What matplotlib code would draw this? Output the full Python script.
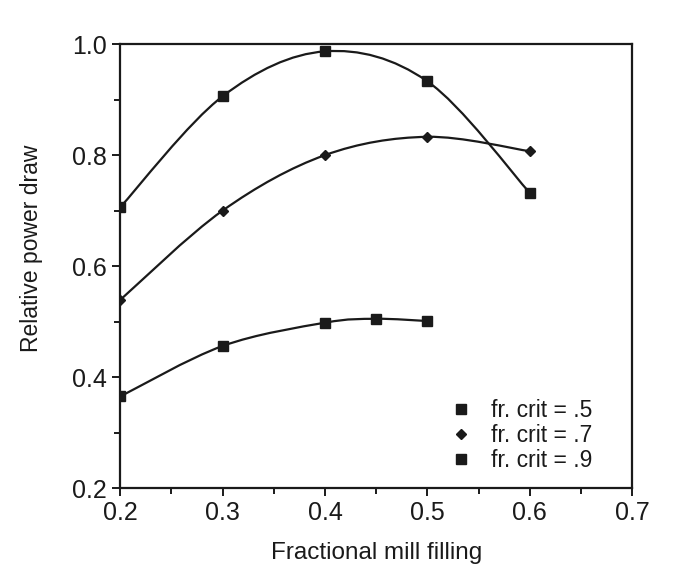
import matplotlib

matplotlib.use("Agg")
import matplotlib.pyplot as plt
import numpy as np
from matplotlib.patches import PathPatch
from matplotlib.path import Path
from matplotlib.ticker import FormatStrFormatter, MultipleLocator

plt.rcParams["font.family"] = ["Liberation Sans", "DejaVu Sans"]

# fraction of critical speed -> (mill filling, relative power draw)
fill_50 = [0.2, 0.3, 0.4, 0.45, 0.5]
power_50 = [0.365, 0.456, 0.498, 0.505, 0.501]
fill_70 = [0.2, 0.3, 0.4, 0.5, 0.6]
power_70 = [0.539, 0.700, 0.800, 0.833, 0.807]
fill_90 = [0.2, 0.3, 0.4, 0.5, 0.6]
power_90 = [0.706, 0.906, 0.987, 0.933, 0.732]
labels = ["fr. crit = .5", "fr. crit = .7", "fr. crit = .9"]


def smooth_path(xs, ys):
    """Catmull-Rom style bezier path through the points."""
    pts = np.column_stack([xs, ys]).astype(float)
    verts = [pts[0]]
    codes = [Path.MOVETO]
    for i in range(len(pts) - 1):
        p0 = pts[i - 1] if i > 0 else pts[i]
        p1, p2 = pts[i], pts[i + 1]
        p3 = pts[i + 2] if i + 2 < len(pts) else pts[i + 1]
        c1 = p1 + (p2 - p0) / 6.0
        c2 = p2 - (p3 - p1) / 6.0
        verts += [c1, c2, p2]
        codes += [Path.CURVE4] * 3
    return Path(verts, codes)


fig = plt.figure(figsize=(6.79, 5.81), dpi=100)
ax = fig.add_axes([0.177, 0.160, 0.754, 0.764])

series = [
    (fill_50, power_50, "s", 7.5),
    (fill_70, power_70, "D", 5.5),
    (fill_90, power_90, "s", 7.5),
]
for (xs, ys, mk, ms), lab in zip(series, labels):
    ax.add_patch(PathPatch(smooth_path(xs, ys), fill=False, lw=1.6, ec="#1a1a1a"))
    ax.plot(xs, ys, ls="none", marker=mk, ms=ms, color="#1a1a1a", label=lab)

ax.set_xlim(0.2, 0.7)
ax.set_ylim(0.2, 1.0)
ax.xaxis.set_major_locator(MultipleLocator(0.1))
ax.xaxis.set_minor_locator(MultipleLocator(0.05))
ax.yaxis.set_major_locator(MultipleLocator(0.2))
ax.yaxis.set_minor_locator(MultipleLocator(0.1))
ax.tick_params(which="major", length=6, width=1.4, labelsize=18, direction="out", colors="#1a1a1a")
ax.tick_params(which="minor", length=4, width=1.4, direction="out", colors="#1a1a1a")
for sp in ax.spines.values():
    sp.set_linewidth(1.6)
    sp.set_color("#1a1a1a")
ax.xaxis.set_major_formatter(FormatStrFormatter("%.1f"))
ax.yaxis.set_major_formatter(FormatStrFormatter("%.1f"))

ax.set_xlabel("Fractional mill filling", fontsize=17.5, labelpad=12, color="#1a1a1a")
ax.set_ylabel("Relative power draw", fontsize=16.5, color="#1a1a1a")
ax.yaxis.set_label_coords(-0.150, 0.54)

ax.legend(loc="upper left", bbox_to_anchor=(0.643, 0.2), frameon=False, fontsize=16.5,
          handletextpad=0.8, labelspacing=0.08, borderpad=0, borderaxespad=0,
          handlelength=1.0, labelcolor="#1a1a1a")

fig.savefig("out.png", dpi=100)
